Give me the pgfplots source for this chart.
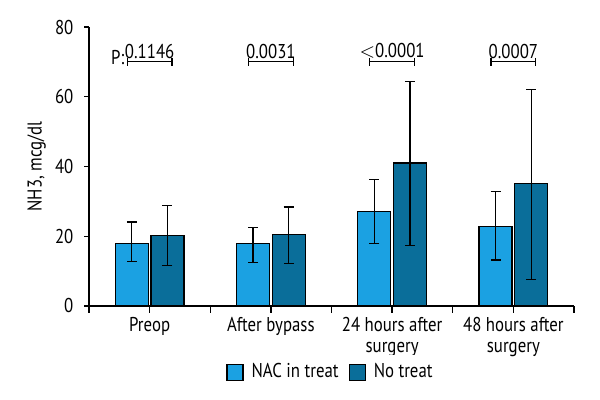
\documentclass[border=0pt]{standalone}
\usepackage{pgfplots}
\pgfplotsset{compat=1.18}
\usepackage{pgfplotstable}
\usepackage{fontspec}
\setmainfont{PT Sans}[FakeStretch=0.84]
\usetikzlibrary{arrows.meta}
\definecolor{lightb}{RGB}{27,161,226}
\definecolor{darkb}{RGB}{10,110,154}
\pgfplotstableread{
x y ep em
0 17.9 6.2 5.1
1 18.0 4.4 5.6
2 27.2 9.1 9.3
3 22.7 10.2 9.5
}\nac
\pgfplotstableread{
x y ep em
0 20.1 8.8 8.5
1 20.6 7.8 8.4
2 41.0 23.3 23.7
3 35.2 26.9 27.5
}\notreat
\newcommand\ff{\fontsize{10}{10.8}\selectfont}
\begin{document}
\ff
\begin{tikzpicture}
\path[use as bounding box] (0,0) rectangle (300pt,200pt);
\begin{axis}[
  at={(44.5pt,47pt)}, anchor=south west,
  scale only axis, width=242.5pt, height=139.5pt,
  ymin=0, ymax=80, xmin=-0.5, xmax=3.5,
  axis x line*=bottom, axis y line*=left,
  axis line style={line width=0.7pt},
  ytick={0,20,40,60,80},
  xtick={-0.5,0.5,1.5,2.5,3.5}, xticklabels={},
  tick align=outside,
  xtick style={/pgfplots/major tick length=3.5pt, line width=0.7pt, black},
  ytick style={/pgfplots/major tick length=2.5pt, line width=0.7pt, black},
  extra x ticks={0,1,2,3},
  extra x tick labels={Preop, After bypass, {24 hours after\\surgery}, {48 hours after\\surgery}},
  extra x tick style={major tick length=0pt, tick label style={align=center, yshift=-2pt}},
  tick label style={font=\ff},
  /pgf/number format/assume math mode=true,
  ylabel={NH3, mcg/dl},
  ylabel style={at={(axis description cs:-0.108,0.5)}, anchor=center, font=\ff},
  ybar, bar width=16.5pt,
  legend style={at={(axis description cs:0.5,-0.237)}, anchor=center, draw=none, legend columns=2,
    font=\ff, column sep=2pt,
    /tikz/every even column/.append style={column sep=3pt}},
  legend image code/.code={\draw[#1,draw=black,line width=0.6pt] (0pt,-4pt) rectangle (8pt,4pt);},
  error bars/error bar style={line width=0.6pt, black},
  error bars/error mark options={rotate=90, mark size=2.5pt, line width=0.6pt, black},
]
\addplot[fill=lightb, draw=black, line width=0.6pt, bar shift=-8.9pt,
  error bars/.cd, y dir=both, y explicit]
  table[x=x, y=y, y error plus=ep, y error minus=em] {\nac};
\addlegendentry{NAC in treat}
\addplot[fill=darkb, draw=black, line width=0.6pt, bar shift=8.9pt,
  error bars/.cd, y dir=both, y explicit]
  table[x=x, y=y, y error plus=ep, y error minus=em] {\notreat};
\addlegendentry{No treat}
\foreach \c/\p in {0/0.1146, 1/0.0031, 2/{$<$0.0001}, 3/0.0007}{
  \edef\tmp{\noexpand\draw[{Bar[width=4pt]}-{Bar[width=4pt]}, line width=0.6pt] (axis cs:\c-0.19,70) -- node[above, inner sep=1.5pt, font=\noexpand\ff] {\p} (axis cs:\c+0.19,70);}
  \tmp
}
\node[anchor=east, inner sep=1pt, font=\ff] at (axis cs:-0.19,71.3) {P:};
\end{axis}
\end{tikzpicture}
\end{document}
